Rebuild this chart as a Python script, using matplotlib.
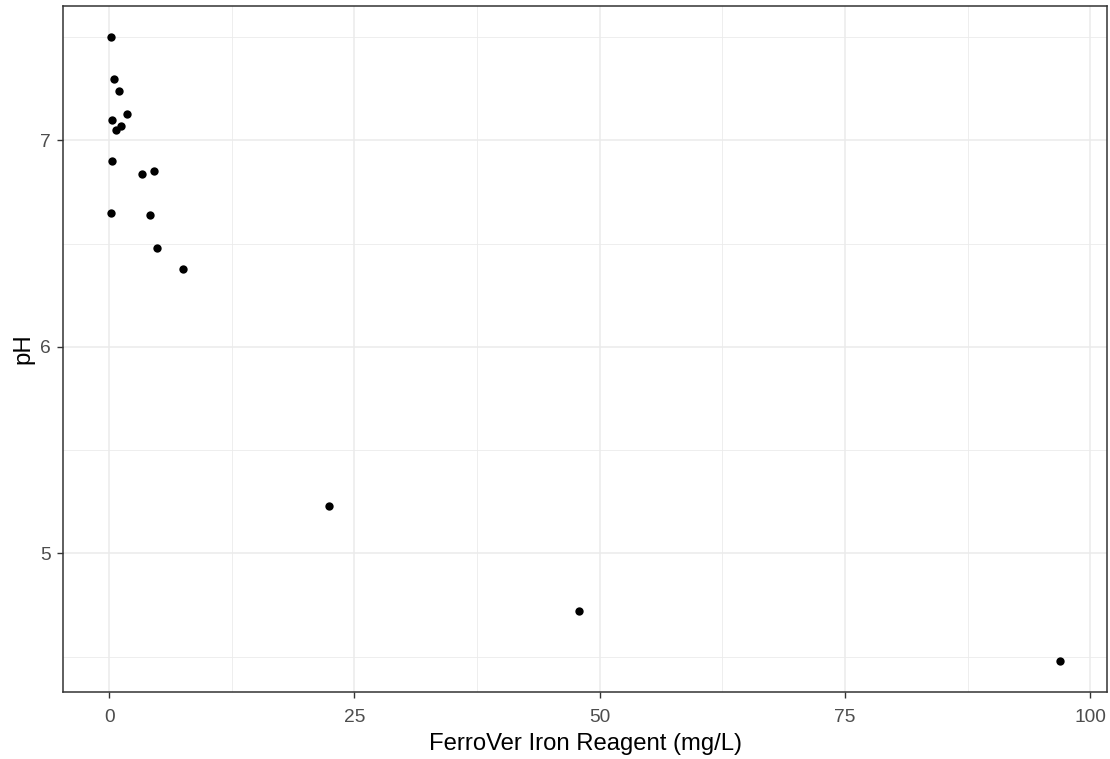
import matplotlib.pyplot as plt
from matplotlib.ticker import MultipleLocator

# FerroVer iron reading (mg/L) vs pH
iron = [0.15, 0.49, 1.0, 1.85, 0.28, 1.17, 0.66, 0.28, 3.34, 4.56,
        0.15, 4.15, 4.87, 7.55, 22.4, 47.9, 96.9]
ph = [7.50, 7.30, 7.24, 7.13, 7.10, 7.07, 7.05, 6.90, 6.84, 6.85,
      6.65, 6.64, 6.48, 6.38, 5.23, 4.72, 4.48]

x_ticks = [0, 25, 50, 75, 100]
y_ticks = [5, 6, 7]

plt.rcParams['font.family'] = ['Liberation Sans', 'DejaVu Sans']

fig = plt.figure(figsize=(11.1, 7.59), dpi=100)
ax = fig.add_axes([0.057, 0.0883, 0.9405, 0.9037])

# ggplot-style limits (5% expansion)
xr = max(iron) - min(iron)
yr = max(ph) - min(ph)
ax.set_xlim(min(iron) - 0.05 * xr, max(iron) + 0.05 * xr)
ax.set_ylim(min(ph) - 0.05 * yr, max(ph) + 0.05 * yr)

ax.set_xticks(x_ticks)
ax.set_yticks(y_ticks)
ax.xaxis.set_minor_locator(MultipleLocator(12.5))
ax.yaxis.set_minor_locator(MultipleLocator(0.5))
ax.tick_params(which='minor', length=0)
ax.tick_params(which='major', length=4, width=1, color='#333333',
               labelcolor='#4D4D4D', labelsize=13.8)
ax.tick_params(axis='x', pad=8.5)
ax.tick_params(axis='y', pad=5)

ax.grid(which='major', color='#EBEBEB', linewidth=1.1)
ax.grid(which='minor', color='#EBEBEB', linewidth=0.6)
ax.set_axisbelow(True)

for sp in ax.spines.values():
    sp.set_color('#333333')
    sp.set_linewidth(1.1)

ax.scatter(iron, ph, s=36, color='black', zorder=3, linewidths=0)

ax.set_xlabel('FerroVer Iron Reagent (mg/L)', fontsize=17.2, labelpad=4.5)
ax.set_ylabel('pH', fontsize=17.2, labelpad=4)

fig.savefig('out.png', dpi=100)
